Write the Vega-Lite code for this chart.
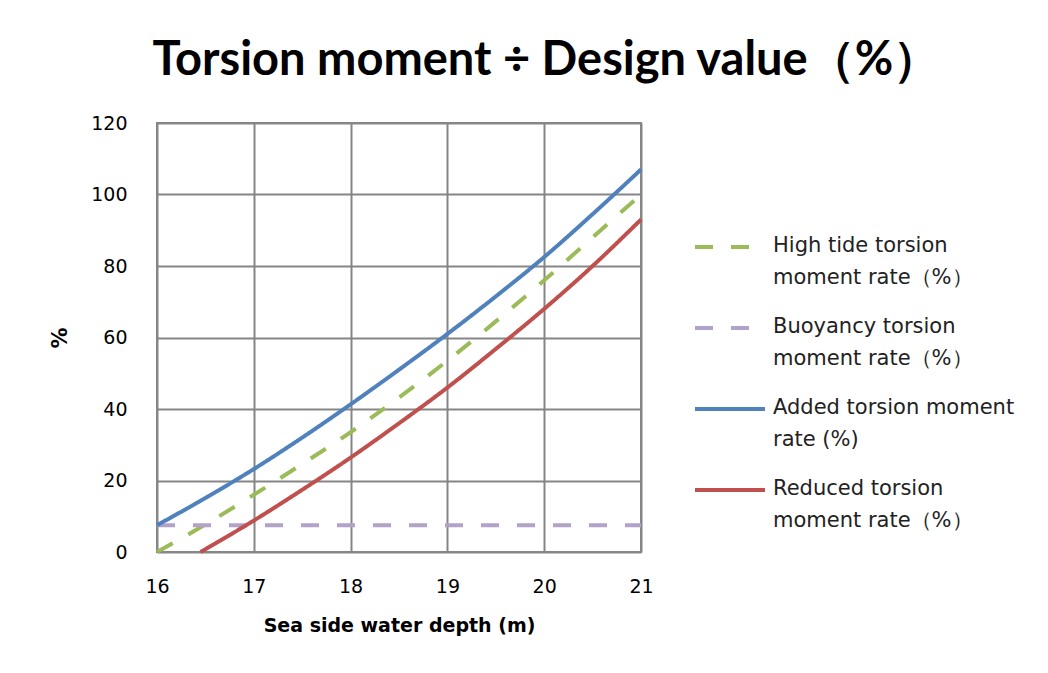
{
  "$schema": "https://vega.github.io/schema/vega-lite/v6.json",
  "width": 484,
  "height": 429,
  "autosize": {"type": "none"},
  "padding": {"left": 157, "top": 123, "right": 407, "bottom": 121},
  "background": "white",
  "title": {
    "text": "Torsion moment ÷ Design value（%）",
    "frame": "bounds",
    "anchor": "middle",
    "font": "Lato",
    "fontSize": 47,
    "fontWeight": "bold",
    "color": "#000000",
    "baseline": "alphabetic",
    "offset": -8,
    "dx": 14
  },
  "data": {
    "values": [
      {"depth": 16, "rate": 0, "series": "High tide torsion|moment rate（%）"},
      {"depth": 16.5, "rate": 7.7, "series": "High tide torsion|moment rate（%）"},
      {"depth": 17, "rate": 16, "series": "High tide torsion|moment rate（%）"},
      {"depth": 17.5, "rate": 24.6, "series": "High tide torsion|moment rate（%）"},
      {"depth": 18, "rate": 33.5, "series": "High tide torsion|moment rate（%）"},
      {"depth": 18.5, "rate": 43.2, "series": "High tide torsion|moment rate（%）"},
      {"depth": 19, "rate": 53.5, "series": "High tide torsion|moment rate（%）"},
      {"depth": 19.5, "rate": 64.5, "series": "High tide torsion|moment rate（%）"},
      {"depth": 20, "rate": 76, "series": "High tide torsion|moment rate（%）"},
      {"depth": 20.5, "rate": 88, "series": "High tide torsion|moment rate（%）"},
      {"depth": 21, "rate": 100, "series": "High tide torsion|moment rate（%）"},
      {"depth": 16, "rate": 7.5, "series": "Buoyancy torsion|moment rate（%）"},
      {"depth": 21, "rate": 7.5, "series": "Buoyancy torsion|moment rate（%）"},
      {"depth": 16, "rate": 7.5, "series": "Added torsion moment|rate (%)"},
      {"depth": 16.5, "rate": 15.1, "series": "Added torsion moment|rate (%)"},
      {"depth": 17, "rate": 23.2, "series": "Added torsion moment|rate (%)"},
      {"depth": 17.5, "rate": 32, "series": "Added torsion moment|rate (%)"},
      {"depth": 18, "rate": 41.3, "series": "Added torsion moment|rate (%)"},
      {"depth": 18.5, "rate": 51, "series": "Added torsion moment|rate (%)"},
      {"depth": 19, "rate": 61, "series": "Added torsion moment|rate (%)"},
      {"depth": 19.5, "rate": 71.5, "series": "Added torsion moment|rate (%)"},
      {"depth": 20, "rate": 82.5, "series": "Added torsion moment|rate (%)"},
      {"depth": 20.5, "rate": 94.5, "series": "Added torsion moment|rate (%)"},
      {"depth": 21, "rate": 107, "series": "Added torsion moment|rate (%)"},
      {"depth": 16.45, "rate": 0, "series": "Reduced torsion|moment rate（%）"},
      {"depth": 17, "rate": 8.8, "series": "Reduced torsion|moment rate（%）"},
      {"depth": 17.5, "rate": 17.4, "series": "Reduced torsion|moment rate（%）"},
      {"depth": 18, "rate": 26.4, "series": "Reduced torsion|moment rate（%）"},
      {"depth": 18.5, "rate": 36, "series": "Reduced torsion|moment rate（%）"},
      {"depth": 19, "rate": 46, "series": "Reduced torsion|moment rate（%）"},
      {"depth": 19.5, "rate": 56.8, "series": "Reduced torsion|moment rate（%）"},
      {"depth": 20, "rate": 68, "series": "Reduced torsion|moment rate（%）"},
      {"depth": 20.5, "rate": 80, "series": "Reduced torsion|moment rate（%）"},
      {"depth": 21, "rate": 93, "series": "Reduced torsion|moment rate（%）"}
    ]
  },
  "mark": {"type": "line", "strokeWidth": 4, "interpolate": "monotone", "strokeCap": "butt"},
  "encoding": {
    "x": {
      "field": "depth",
      "type": "quantitative",
      "scale": {"domain": [16, 21], "nice": false, "zero": false},
      "axis": {
        "title": "Sea side water depth (m)",
        "values": [16, 17, 18, 19, 20, 21],
        "labelFlush": false,
        "labelPadding": 25,
        "titlePadding": 20
      }
    },
    "y": {
      "field": "rate",
      "type": "quantitative",
      "scale": {"domain": [0, 120], "nice": false},
      "axis": {
        "title": "%",
        "titleAngle": -90,
        "titleFontSize": 21,
        "values": [0, 20, 40, 60, 80, 100, 120],
        "labelPadding": 30,
        "titlePadding": 20
      }
    },
    "color": {
      "field": "series",
      "type": "nominal",
      "scale": {
        "domain": ["High tide torsion|moment rate（%）", "Buoyancy torsion|moment rate（%）", "Added torsion moment|rate (%)", "Reduced torsion|moment rate（%）"],
        "range": ["#9BBB59", "#B3A2C7", "#4F81BD", "#C0504D"]
      },
      "legend": {
        "title": null,
        "orient": "none",
        "legendX": 536,
        "legendY": 87,
        "symbolType": "stroke",
        "symbolSize": 4900,
        "symbolStrokeWidth": 4,
        "labelExpr": "split(datum.label, '|')",
        "labelFont": "DejaVu Sans",
        "labelFontSize": 21,
        "labelColor": "#222222",
        "labelLimit": 300,
        "labelOffset": 6,
        "labelBaseline": "top",
        "rowPadding": 3,
        "encoding": {
          "labels": {"lineHeight": {"value": 32}, "dy": {"value": -12}}
        }
      }
    },
    "strokeDash": {
      "field": "series",
      "type": "nominal",
      "scale": {
        "domain": ["High tide torsion|moment rate（%）", "Buoyancy torsion|moment rate（%）", "Added torsion moment|rate (%)", "Reduced torsion|moment rate（%）"],
        "range": [[18, 18], [18, 18], [1, 0], [1, 0]]
      },
      "legend": null
    }
  },
  "config": {
    "view": {"stroke": "#868686", "strokeWidth": 2},
    "axis": {
      "grid": true,
      "gridColor": "#868686",
      "gridWidth": 2,
      "gridOpacity": 1,
      "domain": false,
      "ticks": false,
      "labelFont": "DejaVu Sans",
      "labelFontSize": 19,
      "labelColor": "#000000",
      "titleFont": "DejaVu Sans",
      "titleFontSize": 19,
      "titleFontWeight": "bold",
      "titleColor": "#000000"
    }
  }
}
